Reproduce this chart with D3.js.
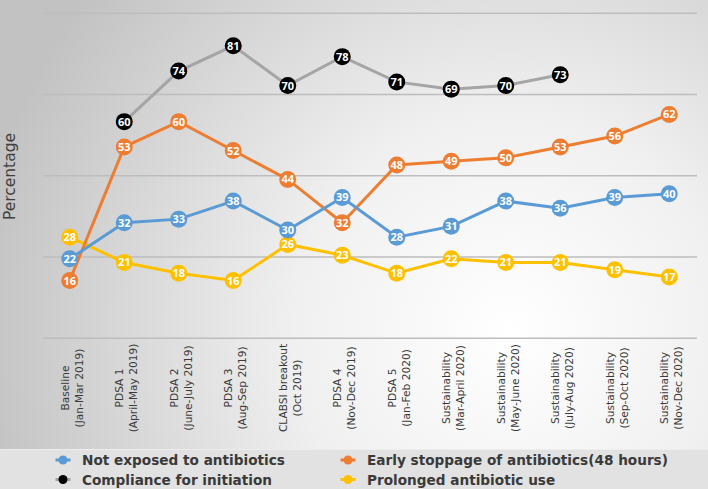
<!DOCTYPE html>
<html><head><meta charset="utf-8">
<script src="https://cdn.jsdelivr.net/npm/d3@7"></script>
<style>body{margin:0;}svg{display:block;}</style>
</head><body>
<svg id="c" width="708" height="489"></svg>
<script>
const categories = [
  ["Baseline","(Jan-Mar 2019)"],
  ["PDSA 1","(April-May 2019)"],
  ["PDSA 2","(June-July 2019)"],
  ["PDSA 3","(Aug-Sep 2019)"],
  ["CLABSI breakout","(Oct 2019)"],
  ["PDSA 4","(Nov-Dec 2019)"],
  ["PDSA 5","(Jan-Feb 2020)"],
  ["Sustainability","(Mar-April 2020)"],
  ["Sustainability","(May-June 2020)"],
  ["Sustainability","(July-Aug 2020)"],
  ["Sustainability","(Sep-Oct 2020)"],
  ["Sustainability","(Nov-Dec 2020)"]
];
const notExposed = [22,32,33,38,30,39,28,31,38,36,39,40];
const earlyStop  = [16,53,60,52,44,32,48,49,50,53,56,62];
const compliance = [null,60,74,81,70,78,71,69,70,73,null,null];
const prolonged  = [28,21,18,16,26,23,18,22,21,21,19,17];
const gridValues = [0,22.5,45,67.5,90];
const seriesNames = ["Not exposed to antibiotics","Early stoppage of antibiotics(48 hours)","Compliance for initiation","Prolonged antibiotic use"];

const svg = d3.select("#c");
const W = 708, H = 489;
const defs = svg.append("defs");
const rg = defs.append("radialGradient").attr("id","bg").attr("gradientUnits","userSpaceOnUse")
  .attr("cx",510).attr("cy",330).attr("r",540);
rg.append("stop").attr("offset","0").attr("stop-color","#ffffff");
rg.append("stop").attr("offset","0.4").attr("stop-color","#f0f0f0");
rg.append("stop").attr("offset","1").attr("stop-color","#c2c2c2");
svg.append("rect").attr("width",W).attr("height",H).attr("fill","url(#bg)");
svg.append("rect").attr("x",0).attr("y",450).attr("width",W).attr("height",39).attr("fill","#e2e2e2");
svg.append("line").attr("x1",0).attr("x2",W).attr("y1",449.5).attr("y2",449.5).attr("stroke","#ededed").attr("stroke-width",1);

const x = d3.scaleBand().domain(d3.range(categories.length)).range([42.5,696.5]);
const y = d3.scaleLinear().domain([0,90]).range([338.3,13.3]);
const cx = i => x(i) + x.bandwidth()/2;

const g = svg.append("g");
g.selectAll("line.grid").data(gridValues).join("line")
  .attr("x1",43).attr("x2",697).attr("y1",d=>y(d)).attr("y2",d=>y(d))
  .attr("stroke","#bdbdbd").attr("stroke-width",1.5);

function fitSize(family, weight, sample, target){
  const t = svg.append("text").attr("font-family",family).attr("font-weight",weight)
    .attr("font-size",20).text(sample);
  const w = t.node().getComputedTextLength(); t.remove();
  return 20*target/w;
}
const xfs = fitSize("DejaVu Sans","normal","(Jan-Mar 2019)",79);
const xl = g.selectAll("g.xl").data(categories).join("g")
  .attr("transform",(d,i)=>`translate(${cx(i)},388) rotate(-90)`);
xl.append("text").attr("x",0).attr("y",-1).attr("text-anchor","middle")
  .attr("font-family","DejaVu Sans").attr("font-size",xfs).attr("fill","#3a3a3a").text(d=>d[0]);
xl.append("text").attr("x",0).attr("y",13).attr("text-anchor","middle")
  .attr("font-family","DejaVu Sans").attr("font-size",xfs).attr("fill","#3a3a3a").text(d=>d[1]);

const pfs = fitSize("DejaVu Sans","normal","Percentage",87);
svg.append("text").attr("transform","translate(15,176.5) rotate(-90)").attr("text-anchor","middle")
  .attr("font-family","DejaVu Sans").attr("font-size",pfs).attr("fill","#404040").text("Percentage");

const series = [
  {vals:compliance, line:"#a5a5a5", dot:"#000000"},
  {vals:prolonged, line:"#ffc000", dot:"#ffc000"},
  {vals:earlyStop, line:"#ed7d31", dot:"#ed7d31"},
  {vals:notExposed, line:"#5b9bd5", dot:"#5b9bd5"}
];
const lineGen = d3.line().defined(d=>d!=null).x((d,i)=>cx(i)).y(d=>y(d));
series.forEach(s=>{
  g.append("path").attr("d",lineGen(s.vals)).attr("fill","none")
    .attr("stroke",s.line).attr("stroke-width",3);
});
series.forEach(s=>{
  const pts = s.vals.map((v,i)=>({v,i})).filter(d=>d.v!=null);
  const pg = g.append("g");
  pg.selectAll("circle").data(pts).join("circle")
    .attr("cx",d=>cx(d.i)).attr("cy",d=>y(d.v)).attr("r",8.5).attr("fill",s.dot);
  pg.selectAll("text").data(pts).join("text")
    .attr("x",d=>cx(d.i)).attr("y",d=>y(d.v)+4).attr("text-anchor","middle")
    .attr("font-family","Open Sans").attr("font-weight","bold").attr("font-size",11)
    .attr("fill","#fff").text(d=>d.v);
});

// legend
const lfs = fitSize("DejaVu Sans","bold",seriesNames[0],203);
const leg = [
  {name:seriesNames[0], line:"#5b9bd5", dot:"#5b9bd5", x:63, y:460},
  {name:seriesNames[1], line:"#ed7d31", dot:"#ed7d31", x:348, y:460},
  {name:seriesNames[2], line:"#a5a5a5", dot:"#000000", x:63, y:479.5},
  {name:seriesNames[3], line:"#ffc000", dot:"#ffc000", x:348, y:479.5}
];
const lg = svg.selectAll("g.leg").data(leg).join("g").attr("transform",d=>`translate(${d.x},${d.y})`);
lg.append("line").attr("x1",-7.5).attr("x2",7.5).attr("stroke",d=>d.line).attr("stroke-width",3);
lg.append("circle").attr("r",4.5).attr("fill",d=>d.dot);
lg.append("text").attr("x",19).attr("y",5).attr("font-family","DejaVu Sans").attr("font-weight","bold")
  .attr("font-size",lfs).attr("fill","#3a3a3a").text(d=>d.name);
</script>
</body></html>
